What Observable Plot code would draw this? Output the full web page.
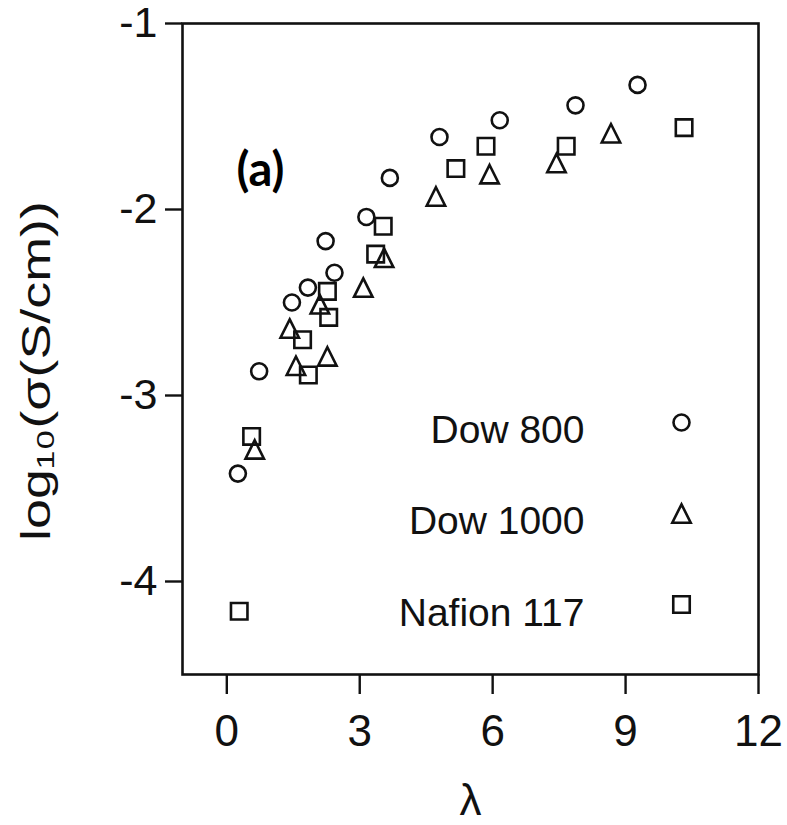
<!DOCTYPE html>
<html>
<head>
<meta charset="utf-8">
<script src="https://cdn.jsdelivr.net/npm/d3@7"></script>
<script src="https://cdn.jsdelivr.net/npm/@observablehq/plot@0.6"></script>
<style>
  html, body { margin: 0; padding: 0; background: #fff; }
  #chart svg { display: block; }
</style>
</head>
<body>
<div id="chart"></div>
<script>
// Conductivity vs water content (λ) for three membranes
const seriesNames = ["Dow 800", "Dow 1000", "Nafion 117"];

const dow800Lambda   = [0.25, 0.73, 1.47, 1.83, 2.23, 2.43, 3.15, 3.68, 4.80, 6.16, 7.87, 9.27];
const dow800LogSigma = [-3.42, -2.87, -2.50, -2.42, -2.17, -2.34, -2.04, -1.83, -1.61, -1.52, -1.44, -1.33];

const dow1000Lambda   = [0.63, 1.42, 1.56, 2.10, 2.27, 3.08, 3.55, 4.72, 5.93, 7.44, 8.67];
const dow1000LogSigma = [-3.29, -2.64, -2.84, -2.51, -2.79, -2.42, -2.26, -1.93, -1.81, -1.75, -1.59];

const nafionLambda   = [0.28, 0.56, 1.71, 1.84, 2.27, 2.30, 3.36, 3.53, 5.17, 5.85, 7.66, 10.32];
const nafionLogSigma = [-4.16, -3.22, -2.70, -2.89, -2.44, -2.58, -2.24, -2.09, -1.78, -1.66, -1.66, -1.56];

const xTicks = [0, 3, 6, 9, 12];
const yTicks = [-1, -2, -3, -4];

const yTitle = "log₁₀(σ(S/cm))";

// Open triangle whose height equals its base, centred on its bounding box
const triangleUp = {
  draw(context, size) {
    const a = Math.sqrt(size / Math.PI);
    context.moveTo(0, -a);
    context.lineTo(a, a);
    context.lineTo(-a, a);
    context.closePath();
  }
};

const symbolFor = { "Dow 800": "circle", "Dow 1000": triangleUp, "Nafion 117": "square" };
const radiusFor = { "Dow 800": 8, "Dow 1000": 9.2, "Nafion 117": 9.3 };

const toRows = (name, xs, ys) => xs.map((x, i) => ({ series: name, lambda: x, logSigma: ys[i] }));
const seriesData = [
  toRows("Dow 800", dow800Lambda, dow800LogSigma),
  toRows("Dow 1000", dow1000Lambda, dow1000LogSigma),
  toRows("Nafion 117", nafionLambda, nafionLogSigma)
];

const ink = "#111";
const mainFont = "'Liberation Sans', Arial, Helvetica, sans-serif";

const dataMarks = seriesNames.map((name, i) =>
  Plot.dot(seriesData[i], {
    x: "lambda", y: "logSigma",
    symbol: () => symbolFor[name],
    r: radiusFor[name],
    stroke: ink, strokeWidth: 2.6, fill: "none"
  })
);

// Legend entries: label right-aligned, symbol to its right
const legendMarks = seriesNames.flatMap((name, i) => [
  Plot.text([name], {
    frameAnchor: "top-left", dx: 402, dy: 407 + i * 91.5,
    textAnchor: "end", lineAnchor: "middle", fontSize: 39, fill: ink
  }),
  Plot.dot([name], {
    frameAnchor: "top-left", dx: 499, dy: 399 + i * 91,
    symbol: () => symbolFor[name], r: radiusFor[name],
    stroke: ink, strokeWidth: 2.6, fill: "none"
  })
]);

const chart = Plot.plot({
  width: 787,
  height: 825,
  marginLeft: 182,
  marginRight: 29,
  marginTop: 23,
  marginBottom: 151,
  style: { background: "#fff", fontFamily: mainFont, color: ink },
  x: { domain: [-1, 12] },
  y: { domain: [-4.5, -1] },
  marks: [
    Plot.frame({ stroke: ink, strokeWidth: 2.6 }),
    Plot.axisX(xTicks, {
      tickSize: 20, tickPadding: 20, fontSize: 44, strokeWidth: 2.4,
      label: null, fill: ink, stroke: ink
    }),
    Plot.axisY(yTicks, {
      tickSize: 17, tickPadding: 8, fontSize: 43, strokeWidth: 2.4,
      tickFormat: d => (d < 0 ? "-" + Math.abs(d) : String(d)),
      label: null, fill: ink, stroke: ink
    }),
    Plot.text(["λ"], {
      frameAnchor: "bottom", dy: 126, lineAnchor: "middle", fontSize: 44, fill: ink
    }),
    Plot.text([yTitle], {
      frameAnchor: "left", dx: -145, dy: 22, rotate: -90,
      textAnchor: "middle", lineAnchor: "middle", fontSize: 40, fill: ink,
      className: "y-title"
    }),
    Plot.text(["(a)"], {
      frameAnchor: "top-left", dx: 54, dy: 147, lineAnchor: "middle",
      fontSize: 47, fontWeight: "bold",
      fill: "#000", fontFamily: "Lato, 'Open Sans', sans-serif"
    }),
    ...dataMarks,
    ...legendMarks
  ]
});

document.getElementById("chart").appendChild(chart);

// The rotated axis title is drawn elongated along its length
const titleText = chart.querySelector(".y-title text");
if (titleText) {
  const natural = titleText.getComputedTextLength();
  const targetLength = 340;
  const k = targetLength / natural;
  const t = titleText.getAttribute("transform") || "";
  titleText.setAttribute("transform", `${t} scale(${k.toFixed(3)},1)`);
}
</script>
</body>
</html>
